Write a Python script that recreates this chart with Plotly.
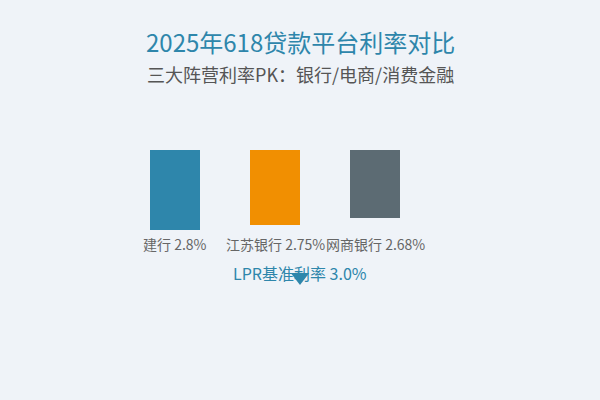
import plotly.graph_objects as go

# 数据
platforms = ["建行", "江苏银行", "网商银行"]
rates = [2.8, 2.75, 2.68]
bar_colors = ["#2E86AB", "#F18F01", "#5C6B73"]
lpr_rate = 3.0
base_rate = 2.0

title_text = "2025年618贷款平台利率对比"
subtitle_text = "三大阵营利率PK：银行/电商/消费金融"

FONT = "Noto Sans CJK SC, Noto Sans, sans-serif"
BG = "#eff3f8"

xpos = list(range(len(platforms)))

fig = go.Figure()
fig.add_trace(
    go.Bar(
        x=xpos,
        y=[r - base_rate for r in rates],
        base=base_rate,
        width=0.5,
        marker=dict(color=bar_colors, line=dict(width=0)),
        hoverinfo="skip",
    )
)

# LPR 标记（叠加在纸面坐标轴上）
fig.add_trace(
    go.Scatter(
        x=[0.5],
        y=[1 - 277 / 400],
        xaxis="x2",
        yaxis="y2",
        mode="markers",
        marker=dict(symbol="triangle-down", size=16, color="#2E86AB"),
        hoverinfo="skip",
    )
)

# 平台标签
for i, (name, r) in enumerate(zip(platforms, rates)):
    fig.add_annotation(
        x=i,
        xref="x",
        y=1 - 244 / 400,
        yref="paper",
        text=f"{name} {r}%",
        showarrow=False,
        font=dict(size=14, color="#666666", family=FONT),
        xanchor="center",
        yanchor="middle",
    )

fig.add_annotation(
    x=0.5,
    xref="paper",
    y=1 - 273 / 400,
    yref="paper",
    text=f"LPR基准利率 {lpr_rate}%",
    showarrow=False,
    font=dict(size=16, color="#2E86AB", family=FONT),
    xanchor="center",
    yanchor="middle",
)

# 标题
fig.add_annotation(
    x=0.5, xref="paper", y=1 - 42 / 400, yref="paper",
    text=title_text, showarrow=False,
    font=dict(size=24, color="#2E86AB", family=FONT),
    xanchor="center", yanchor="middle",
)
fig.add_annotation(
    x=0.5, xref="paper", y=1 - 74 / 400, yref="paper",
    text=subtitle_text, showarrow=False,
    font=dict(size=18, color="#555555", family=FONT),
    xanchor="center", yanchor="middle",
)

fig.update_layout(
    width=600,
    height=400,
    margin=dict(l=0, r=0, t=0, b=0),
    paper_bgcolor=BG,
    plot_bgcolor=BG,
    showlegend=False,
    xaxis=dict(range=[-1.75, 4.25], visible=False, fixedrange=True),
    yaxis=dict(range=[4.5, 0.5], visible=False, fixedrange=True),
    xaxis2=dict(range=[0, 1], visible=False, overlaying="x", fixedrange=True),
    yaxis2=dict(range=[0, 1], visible=False, overlaying="y", fixedrange=True),
)

fig.write_html(
    "out.html",
    config={"displayModeBar": False},
    post_script="document.body.style.margin='0';",
)
